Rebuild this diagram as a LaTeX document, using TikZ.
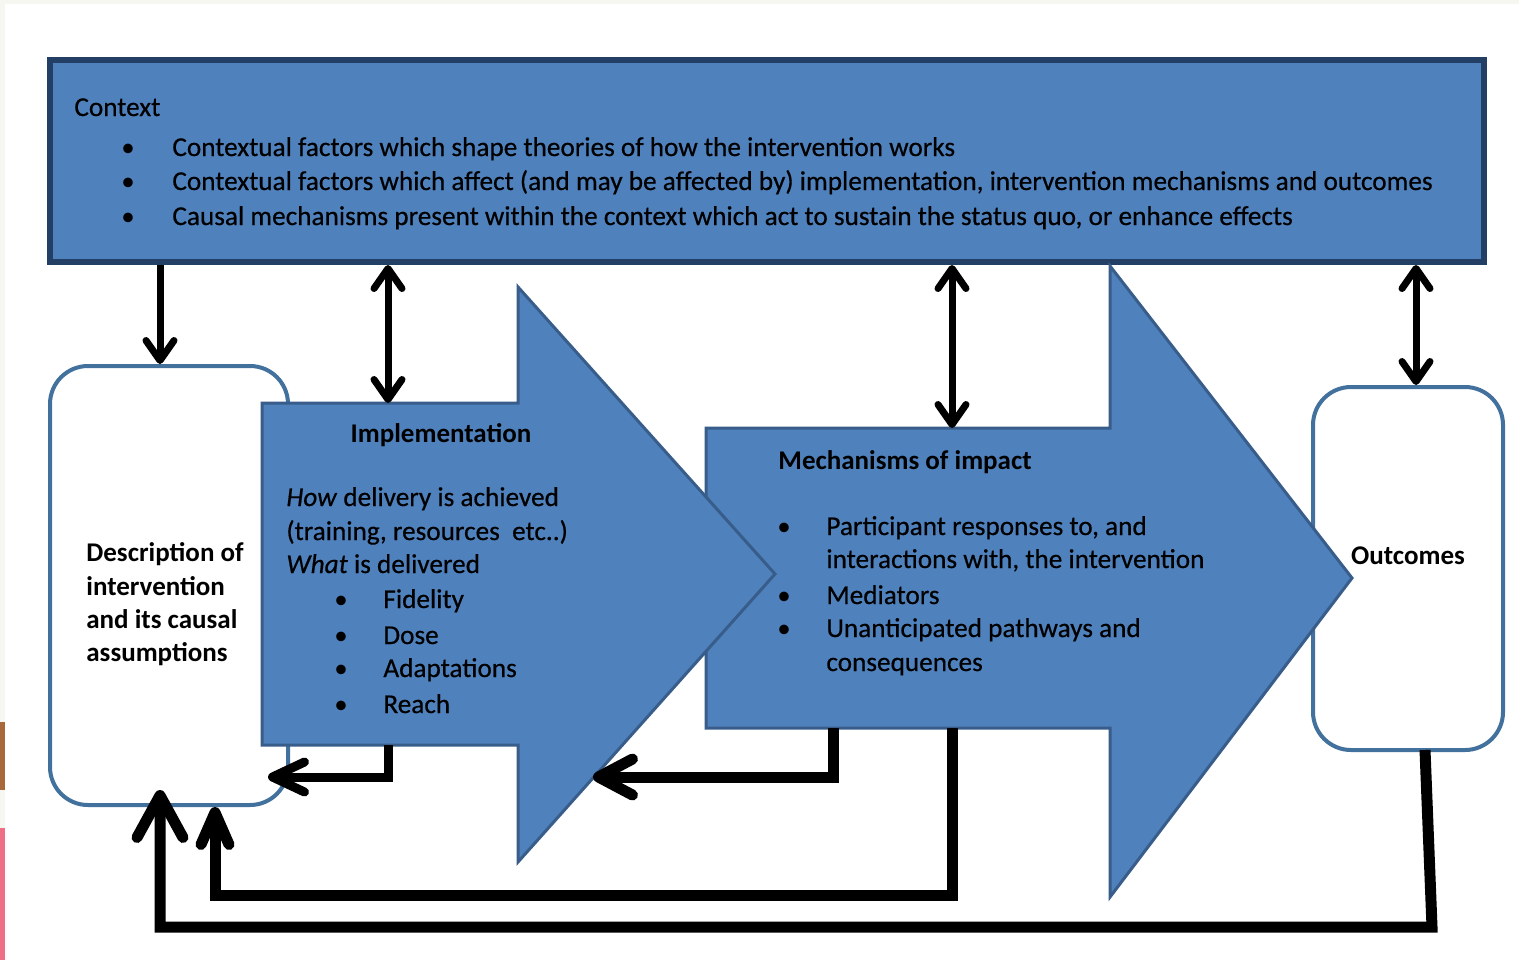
\documentclass[tikz,border=0pt]{standalone}
\usepackage{fontspec}
\setmainfont{Carlito}
\newfontfamily\regfont{Carlito}[FakeBold=0.5]
\usetikzlibrary{arrows.meta}
\definecolor{fillblue}{HTML}{4F81BD}
\definecolor{edgeblue}{HTML}{385D8A}
\definecolor{ctxedge}{HTML}{243F66}
\definecolor{boxedge}{HTML}{41719C}
\definecolor{pagegrey}{HTML}{F6F7F1}
\definecolor{stripbrown}{HTML}{A8683A}
\definecolor{strippink}{HTML}{EE6F86}
\begin{document}
\begin{tikzpicture}[x=0.5pt,y=-0.5pt,
 txt/.style={anchor=base west, inner sep=0pt, font=\regfont\fontsize{13.62}{17}\selectfont},
 bld/.style={anchor=base west, inner sep=0pt, font=\fontsize{13.5}{17}\selectfont\bfseries},
 bul/.style={anchor=base, inner sep=0pt, font=\fontsize{13.5}{17}\selectfont},
 ctxbox/.style={draw=ctxedge, line width=3pt, fill=fillblue, inner sep=0pt},
 rbox/.style={draw=boxedge, line width=2pt, fill=white, rounded corners=19pt, inner sep=0pt},
 blockarrow/.style={draw=edgeblue, line width=1.5pt, fill=fillblue, line join=miter},
 dbl/.style={draw, line width=3.5pt, {Straight Barb[length=10pt,width=14pt,round]}-{Straight Barb[length=10pt,width=14pt,round]}},
 sgl/.style={draw, line width=3.5pt, -{Straight Barb[length=10pt,width=14pt,round]}},
 retA/.style={draw, line width=4.5pt, line join=miter, -{Straight Barb[length=16pt,width=15pt,round]}},
 retB/.style={draw, line width=5.5pt, line join=miter, -{Straight Barb[length=17pt,width=18pt,round]}},
 fbA/.style={draw, line width=5.5pt, line join=miter, -{Straight Barb[length=16pt,width=14pt,round]}},
 fbB/.style={draw, line width=5.5pt, line join=miter, -{Straight Barb[length=21pt,width=23pt,round]}}
]
\useasboundingbox (0,0) rectangle (1519,960);
% page background
\fill[pagegrey] (0,0) rectangle (1519,960);
\fill[white] (5,4) rectangle (1519,960);
\fill[stripbrown] (0,722) rectangle (5,790);
\fill[strippink] (0,828) rectangle (5,960);

% boxes
\node[ctxbox, minimum width=717pt, minimum height=101pt] (context) at (767,161) {};
\node[rbox, minimum width=119pt, minimum height=219.5pt] (desc) at (169,585.5) {};
\node[rbox, minimum width=95pt, minimum height=181.5pt] (outc) at (1408,568.5) {};

% mechanisms block arrow
\draw[blockarrow] (706,428) -- (1110,428) -- (1110,266) -- (1352,578) -- (1110,897) -- (1110,728) -- (706,728) -- cycle;
% implementation block arrow
\draw[blockarrow] (262,403) -- (518,403) -- (518,287) -- (775,574) -- (518,862) -- (518,745) -- (262,745) -- cycle;

% anchor coordinates
\coordinate (implTop) at (388,403);
\coordinate (implBot) at (388,745);
\coordinate (mechTop) at (952,428);
\coordinate (mechBotA) at (833,728);
\coordinate (mechBotB) at (952,728);
\coordinate (implHead) at (593,777);
\coordinate (descRet) at (268,777);
\coordinate (outBot) at (1425,750);
\coordinate (cA) at (160,0);
\coordinate (cB) at (388,0);
\coordinate (cC) at (952,0);
\coordinate (cD) at (1416,0);
\coordinate (descBotA) at (215,807);
\coordinate (descBotB) at (160,790);

% texts: context
\node[txt] (ctxT) at (74,116) {Context};
\node[bul] (cb1) at (128,156) {\textbullet};
\node[bul] (cb2) at (128,190) {\textbullet};
\node[bul] (cb3) at (128,225) {\textbullet};
\node[txt] (ct1) at (172,156) {Contextual factors which shape theories of how the intervention works};
\node[txt] (ct2) at (172,190) {Contextual factors which affect (and may be affected by) implementation, intervention mechanisms and outcomes};
\node[txt] (ct3) at (172,225) {Causal mechanisms present within the context which act to sustain the status quo, or enhance effects};

% description
\node[bld] (d1) at (86,561) {Description of};
\node[bld] (d2) at (86,595) {intervention};
\node[bld] (d3) at (86,628) {and its causal};
\node[bld] (d4) at (86,661) {assumptions};

% implementation
\node[bul, font=\fontsize{13.5}{17}\selectfont\bfseries] (iT) at (441,442) {Implementation};
\node[txt] (i1) at (286,506) {\textit{How} delivery is achieved};
\node[txt] (i2) at (286,540) {(training, resources\ \ etc..)};
\node[txt] (i3) at (286,573) {\textit{What} is delivered};
\node[bul] (ib1) at (341,608) {\textbullet};
\node[bul] (ib2) at (341,644) {\textbullet};
\node[bul] (ib3) at (341,677) {\textbullet};
\node[bul] (ib4) at (341,713) {\textbullet};
\node[txt] (i4) at (383,608) {Fidelity};
\node[txt] (i5) at (383,644) {Dose};
\node[txt] (i6) at (383,677) {Adaptations};
\node[txt] (i7) at (383,713) {Reach};

% mechanisms
\node[bld] (mT) at (778,469) {Mechanisms of impact};
\node[bul] (mb1) at (784,535) {\textbullet};
\node[bul] (mb2) at (784,604) {\textbullet};
\node[bul] (mb3) at (784,637) {\textbullet};
\node[txt] (m1) at (826,535) {Participant responses to, and};
\node[txt] (m1b) at (826,568) {interactions with, the intervention};
\node[txt] (m2) at (826,604) {Mediators};
\node[txt] (m3) at (826,637) {Unanticipated pathways and};
\node[txt] (m3b) at (826,671) {consequences};

% outcomes
\node[bul, font=\fontsize{13.5}{17}\selectfont\bfseries] (oT) at (1408,564) {Outcomes};

% connectors from context
\draw[sgl] (context.south -| cA) -- (desc.north -| cA);
\draw[dbl] (context.south -| cB) -- (implTop);
\draw[dbl] (context.south -| cC) -- (mechTop);
\draw[dbl] (context.south -| cD) -- (outc.north -| cD);

% feedback connectors
\draw[retA] (implBot) |- (descRet);
\draw[retB] (mechBotA) |- (implHead);
\draw[fbA] (mechBotB) -- (952,895) -- (215,895) -- (descBotA);
\draw[fbB] (outBot) -- (1432,927) -- (160,927) -- (descBotB);
\end{tikzpicture}
\end{document}
